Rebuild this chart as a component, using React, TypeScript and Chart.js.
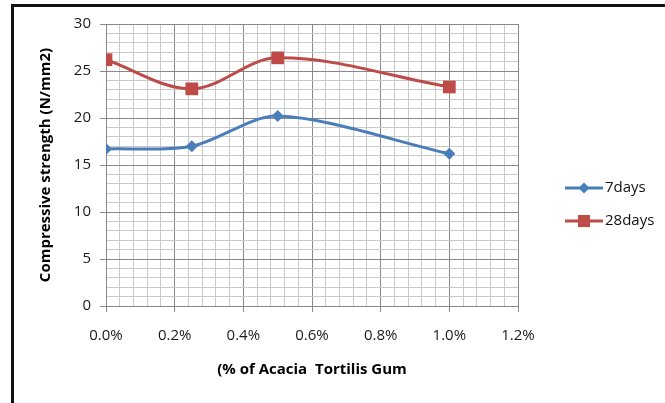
import React, { useEffect, useRef } from "react";
import { Chart, registerables } from "chart.js";

Chart.register(...registerables);

// Gum content (% of Acacia Tortilis gum)
const gumPercent = [0, 0.25, 0.5, 1.0];
// Compressive strength in N/mm2
const strength7days = [16.7, 17.0, 20.2, 16.2];
const strength28days = [26.2, 23.1, 26.4, 23.3];

const seriesNames = ["7days", "28days"];
const xTickLabelSuffix = "%";
const yTitle = "Compressive strength (N/mm2)";
const xTitle = "(% of Acacia  Tortilis Gum";

const FONT = "'Open Sans', 'DejaVu Sans', sans-serif";
const MAJOR = "#888888";
const MINOR = "#c9c9c9";
const BLUE = "#4a7ebb";
const RED = "#be4b48";

const isMultiple = (v: number, step: number) =>
  Math.abs(v / step - Math.round(v / step)) < 1e-6;

// Legend drawn beside the plot: line segment with the series marker, then name.
const sideLegend = {
  id: "sideLegend",
  afterDraw(chart: any) {
    const { ctx, chartArea } = chart;
    const x0 = chartArea.right + 47;
    const x1 = x0 + 38;
    const xm = (x0 + x1) / 2;
    ctx.save();
    chart.data.datasets.forEach((ds: any, i: number) => {
      const y = chartArea.top + 164 + i * 33;
      ctx.strokeStyle = ds.borderColor;
      ctx.lineWidth = 3;
      ctx.beginPath();
      ctx.moveTo(x0, y);
      ctx.lineTo(x1, y);
      ctx.stroke();
      ctx.fillStyle = ds.backgroundColor;
      ctx.beginPath();
      if (ds.pointStyle === "rectRot") {
        const r = 5.5;
        ctx.moveTo(xm, y - r);
        ctx.lineTo(xm + r, y);
        ctx.lineTo(xm, y + r);
        ctx.lineTo(xm - r, y);
        ctx.closePath();
      } else {
        const s = 6;
        ctx.rect(xm - s, y - s, 2 * s, 2 * s);
      }
      ctx.fill();
      ctx.fillStyle = "#111";
      ctx.font = `15px ${FONT}`;
      ctx.textAlign = "left";
      ctx.textBaseline = "middle";
      ctx.fillText(ds.label, x1 + 2, y);
    });
    ctx.restore();
  },
};

export default function App() {
  const canvasRef = useRef<HTMLCanvasElement | null>(null);

  useEffect(() => {
    const canvas = canvasRef.current;
    if (!canvas) return;
    const chart = new Chart(canvas, {
      type: "line",
      data: {
        datasets: [
          {
            label: seriesNames[0],
            data: gumPercent.map((x, i) => ({ x, y: strength7days[i] })),
            borderColor: BLUE,
            backgroundColor: BLUE,
            borderWidth: 3,
            pointStyle: "rectRot",
            pointRadius: 6,
            pointBorderWidth: 0,
            tension: 0.3,
          },
          {
            label: seriesNames[1],
            data: gumPercent.map((x, i) => ({ x, y: strength28days[i] })),
            borderColor: RED,
            backgroundColor: RED,
            borderWidth: 3,
            pointStyle: "rect",
            pointRadius: 9,
            pointBorderWidth: 0,
            tension: 0.35,
          },
        ],
      },
      options: {
        responsive: false,
        animation: false,
        layout: { padding: { left: 0, top: 24, right: 147, bottom: 0 } },
        plugins: {
          legend: { display: false },
          tooltip: { enabled: false },
        },
        scales: {
          x: {
            type: "linear",
            min: 0,
            max: 1.2,
            afterFit: (scale: any) => {
              scale.height = 97;
            },
            ticks: {
              stepSize: 0.04,
              autoSkip: false,
              maxRotation: 0,
              padding: 15,
              color: "#1a1a1a",
              font: { family: FONT, size: 15 },
              callback: (v: any) =>
                isMultiple(Number(v), 0.2)
                  ? Number(v).toFixed(1) + xTickLabelSuffix
                  : "",
            },
            grid: {
              color: (c: any) =>
                c.tick && isMultiple(c.tick.value, 0.2) ? MAJOR : MINOR,
              tickColor: (c: any) =>
                c.tick && isMultiple(c.tick.value, 0.2) ? MAJOR : "rgba(0,0,0,0)",
              tickLength: 6,
            },
            border: { color: MAJOR },
            title: {
              display: true,
              text: xTitle,
              color: "#000",
              font: { family: FONT, size: 15, weight: "bold" },
              padding: { top: 0, bottom: 24 },
            },
          },
          y: {
            min: 0,
            max: 30,
            afterFit: (scale: any) => {
              scale.width = 106;
            },
            ticks: {
              stepSize: 1,
              autoSkip: false,
              padding: 9,
              color: "#1a1a1a",
              font: { family: FONT, size: 15 },
              callback: (v: any) => (isMultiple(Number(v), 5) ? String(v) : ""),
            },
            grid: {
              color: (c: any) =>
                c.tick && isMultiple(c.tick.value, 5) ? MAJOR : MINOR,
              tickColor: (c: any) =>
                c.tick && isMultiple(c.tick.value, 5) ? MAJOR : "rgba(0,0,0,0)",
              tickLength: 6,
            },
            border: { color: MAJOR },
            title: {
              display: true,
              text: yTitle,
              color: "#000",
              font: { family: FONT, size: 15, weight: "bold" },
              padding: { top: 37, bottom: 0 },
            },
          },
        },
      },
      plugins: [sideLegend],
    });
    return () => chart.destroy();
  }, []);

  return (
    <div
      style={{
        position: "fixed",
        left: 0,
        top: 0,
        width: 665,
        height: 403,
        overflow: "hidden",
        background: "#fff",
      }}
    >
      <canvas
        ref={canvasRef}
        width={665}
        height={403}
        style={{ position: "absolute", left: 0, top: 0, width: 665, height: 403 }}
      />
      <div
        style={{
          position: "absolute",
          left: 11,
          top: 4,
          width: 700,
          height: 450,
          border: "3px solid #111",
          boxSizing: "border-box",
          pointerEvents: "none",
        }}
      />
    </div>
  );
}
